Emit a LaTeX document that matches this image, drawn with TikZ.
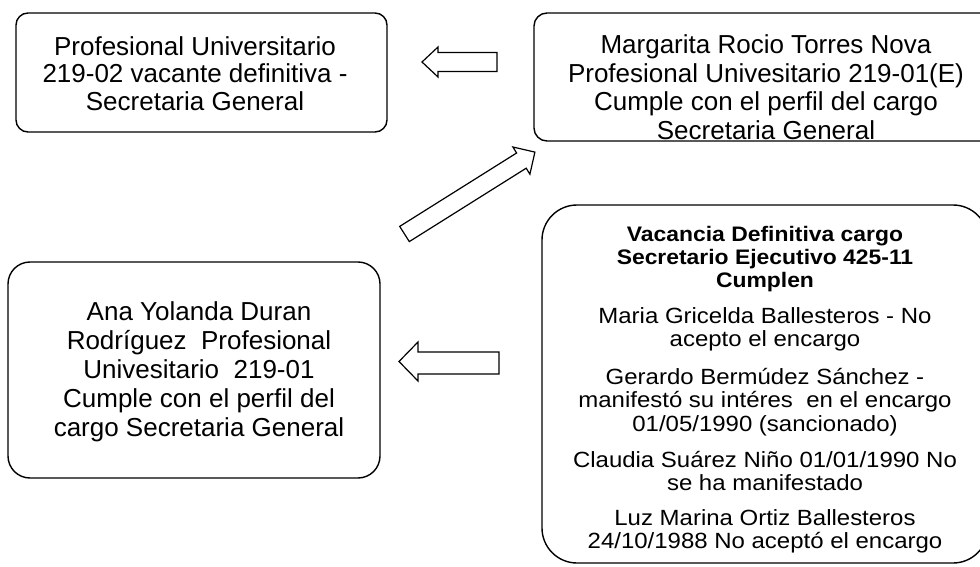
\documentclass[tikz,border=0pt]{standalone}
\usepackage{fontspec}
\setmainfont{Liberation Sans}
\newfontfamily\cfont[FakeStretch=1.09]{Liberation Sans}
\setlength{\lineskiplimit}{-20pt}
\begin{document}
\begin{tikzpicture}[x=1pt,y=-1pt,
  box/.style={draw=black, line width=1.4pt, rounded corners=#1, inner sep=0pt},
  box/.default=12pt,
  txt/.style={anchor=north, inner sep=0pt, align=center},
  bigtxt/.style={txt, font=\fontsize{26}{#1}\selectfont},
  smalltxt/.style={txt, font=\cfont\fontsize{22}{23.5}\selectfont},
  blockarrow/.style={draw=black, fill=white, line width=1.2pt, line join=miter}
]
\useasboundingbox (0,0) rectangle (980,567);
\fill[white] (0,0) rectangle (980,567);
\clip (0,0) rectangle (980,567);

% boxes
\node[box=12pt, minimum width=371pt, minimum height=119pt] (A) at (201.5,72.5) {};
\node[box=13pt, minimum width=464pt, minimum height=128pt] (B) at (766,77) {};
\node[box=22pt, minimum width=372pt, minimum height=216pt] (D) at (194,370) {};
\node[box=35pt, minimum width=446pt, minimum height=358pt] (C) at (765,384) {};

% texts
\node[bigtxt=27.5] (At) at (195,36) {Profesional Universitario\\219-02 vacante definitiva -\\Secretaria General};
\node[bigtxt=28.7] (Bt) at (766,34.4) {Margarita Rocio Torres Nova\\Profesional Univesitario 219-01(E)\\Cumple con el perfil del cargo\\Secretaria General};
\node[bigtxt=29] (Dt) at (199,301) {Ana Yolanda Duran\\Rodríguez\ \ Profesional\\Univesitario\ \ 219-01\\Cumple con el perfil del\\cargo Secretaria General};
\node[smalltxt] (Ct) at (765,225.7) {{\bfseries\fontsize{21}{23.5}\selectfont Vacancia Definitiva cargo}\\[-0.5pt]
{\bfseries\fontsize{21}{23.5}\selectfont Secretario Ejecutivo 425-11}\\[-0.5pt]
{\bfseries\fontsize{21}{23.5}\selectfont Cumplen}\\[12.5pt]
Maria Gricelda Ballesteros - No\\
acepto el encargo\\[14pt]
Gerardo Bermúdez Sánchez -\\
manifestó su intéres\ \ en el encargo\\
01/05/1990 (sancionado)\\[12.5pt]
Claudia Suárez Niño 01/01/1990 No\\
se ha manifestado\\[11pt]
Luz Marina Ortiz Ballesteros\\
24/10/1988 No aceptó el encargo};

% block arrows
\draw[blockarrow] (497,52.5) -- (438,52.5) -- (438,47) -- (422,62) -- (438,77) -- (438,71.5) -- (497,71.5) -- cycle;
\draw[blockarrow] (499,352) -- (418,352) -- (418,342) -- (399,361.5) -- (418,381) -- (418,374) -- (499,374) -- cycle;
\draw[blockarrow] (409.3,241.6) -- (399.7,226.4) -- (516.6,153.0) -- (512.9,147.0) -- (534.9,152.1) -- (529.9,174.2) -- (526.2,168.2) -- cycle;
\end{tikzpicture}
\end{document}
